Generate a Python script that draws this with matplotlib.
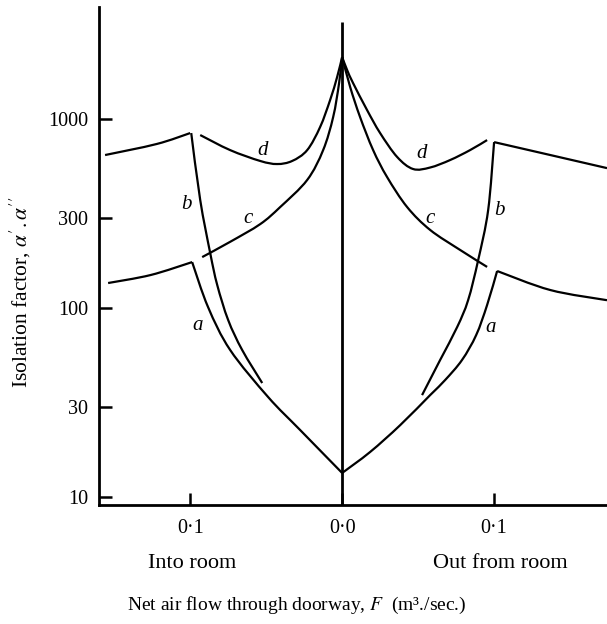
import numpy as np
import matplotlib
matplotlib.use("Agg")
import matplotlib.pyplot as plt
from matplotlib.path import Path
from matplotlib.patches import PathPatch
from matplotlib.ticker import FixedLocator, NullLocator, FixedFormatter

plt.rcParams['font.family'] = ['Liberation Serif', 'DejaVu Serif']
plt.rcParams['mathtext.fontset'] = 'stix'

# ---------------- data (x: net air flow, m3/sec; negative = into room) -------------
# Into room (left half)
d_in_flat_x = [-0.156, -0.122, -0.100]
d_in_flat_y = [645, 738, 843]
b_in_x = [-0.0993, -0.0934, -0.0868, -0.0822, -0.0750, -0.0658, -0.0526]
b_in_y = [843, 373, 195, 132.4, 86.4, 60, 40.1]
a_in_flat_x = [-0.154, -0.126, -0.0987]
a_in_flat_y = [135.6, 149.5, 175]
a_in_x = [-0.0987, -0.0882, -0.0737, -0.0487, -0.0276, 0.0]
a_in_y = [175, 101, 60, 33.8, 22.6, 13.4]
c_in_x = [-0.0921, -0.0737, -0.0539, -0.0408, -0.0230, -0.0125, -0.0059, -0.0020, 0.0]
c_in_y = [186, 224, 278, 342, 476, 685, 1025, 1550, 2128]
d_in_x = [-0.0934, -0.0737, -0.0539, -0.0428, -0.0329, -0.0230, -0.0145, -0.0079, -0.0033, 0.0]
d_in_y = [823, 685, 600, 578, 600, 685, 907, 1261, 1668, 2128]

# Out from room (right half)
d_out_x = [0.0, 0.0033, 0.0072, 0.0164, 0.0250, 0.0362, 0.0467, 0.0579, 0.0711, 0.0842, 0.0954]
d_out_y = [2128, 1816, 1550, 1116, 843, 630, 544, 554, 607, 685, 774]
c_out_x = [0.0, 0.0053, 0.0118, 0.0204, 0.0296, 0.0428, 0.0579, 0.0776, 0.0954]
c_out_y = [2128, 1476, 1025, 685, 493, 342, 259, 203, 165]
d_out_flat_x = [0.100, 0.137, 0.1743]
d_out_flat_y = [755, 645, 550]
b_out_x = [0.100, 0.0961, 0.0895, 0.0829, 0.0757, 0.0645, 0.0526]
b_out_y = [755, 330, 179, 110, 79.3, 53.1, 34.6]
a_out_flat_x = [0.102, 0.137, 0.1743]
a_out_flat_y = [157, 124.5, 110]
a_out_x = [0.102, 0.0954, 0.0882, 0.0789, 0.0678, 0.0579, 0.0382, 0.0184, 0.0]
a_out_y = [157, 103.7, 71.9, 53.1, 41.6, 34.6, 24.0, 17.3, 13.4]

# zero-flow line
center_x = [0.0, 0.0]
center_y = [9.07, 3260]

# curve labels
label_text = ['d', 'c', 'b', 'a', 'd', 'c', 'b', 'a']
label_x = [-0.0526, -0.0618, -0.1026, -0.0954, 0.052, 0.0579, 0.1033, 0.098]
label_y = [685, 299, 351, 81.3, 661, 299, 330, 79.3]

y_ticks = [10, 30, 100, 300, 1000]
y_ticklabels = ['10', '30', '100', '300', '1000']
x_ticks = [-0.1, 0.0, 0.1]
x_ticklabels = ['0·1', '0·0', '0·1']


def smooth_path(xs, ys):
    """Catmull-Rom curve through the points (in x / log10 y space) as a Bezier path."""
    p = np.column_stack([np.asarray(xs, float), np.log10(np.asarray(ys, float))])
    n = len(p)
    verts = [p[0]]
    codes = [Path.MOVETO]
    for i in range(n - 1):
        p0 = p[i - 1] if i > 0 else p[i]
        p1, p2 = p[i], p[i + 1]
        p3 = p[i + 2] if i + 2 < n else p[i + 1]
        c1 = p1 + (p2 - p0) / 6.0
        c2 = p2 - (p3 - p1) / 6.0
        verts += [c1, c2, p2]
        codes += [Path.CURVE4] * 3
    verts = np.array(verts)
    verts[:, 1] = 10 ** verts[:, 1]
    return Path(verts, codes)


# ---------------- figure ----------------
W, H = 607, 624
fig = plt.figure(figsize=(W / 100, H / 100), dpi=100)
ax = fig.add_axes([99 / W, (H - 505) / H, 1 - 99 / W, (505 - 7) / H])
ax.set_yscale('log')
ax.set_xlim(-0.16, 0.1743)
ax.set_ylim(9.07, 3917)

lw = 1.6
series = [(d_in_flat_x, d_in_flat_y), (b_in_x, b_in_y), (a_in_flat_x, a_in_flat_y),
          (a_in_x, a_in_y), (c_in_x, c_in_y), (d_in_x, d_in_y),
          (d_out_x, d_out_y), (c_out_x, c_out_y), (d_out_flat_x, d_out_flat_y),
          (b_out_x, b_out_y), (a_out_flat_x, a_out_flat_y), (a_out_x, a_out_y)]
for xs, ys in series:
    ax.add_patch(PathPatch(smooth_path(xs, ys), facecolor='none', edgecolor='black',
                           lw=lw, joinstyle='round', capstyle='butt', clip_on=False))
ax.plot(center_x, center_y, color='black', lw=2.0, solid_capstyle='butt')

for t, x, y in zip(label_text, label_x, label_y):
    ax.text(x, y, t, fontsize=15, style='italic', ha='center', va='center')

for s in ['top', 'right']:
    ax.spines[s].set_visible(False)
for s in ['left', 'bottom']:
    ax.spines[s].set_linewidth(2.0)

ax.yaxis.set_major_locator(FixedLocator(y_ticks))
ax.yaxis.set_major_formatter(FixedFormatter(y_ticklabels))
ax.yaxis.set_minor_locator(NullLocator())
ax.xaxis.set_major_locator(FixedLocator(x_ticks))
ax.xaxis.set_major_formatter(FixedFormatter(x_ticklabels))
ax.tick_params(axis='both', direction='in', length=9, width=1.8, labelsize=14.5, color='black')
ax.tick_params(axis='y', pad=8)
ax.tick_params(axis='x', pad=10)

fig.text(192 / W, 1 - 564 / H, 'Into room', fontsize=16, ha='center', va='center')
fig.text(500 / W, 1 - 564 / H, 'Out from room', fontsize=16, ha='center', va='center')
fig.text(297 / W, 1 - 605 / H, r'Net air flow through doorway, $F$  (m³./sec.)',
         fontsize=14, ha='center', va='center')
fig.text(20 / W, 1 - 292 / H, r"Isolation factor, $\alpha^{\prime}.\alpha^{\prime\prime}$",
         fontsize=15.5, rotation=90, ha='center', va='center')

fig.savefig('out.png', dpi=100)
